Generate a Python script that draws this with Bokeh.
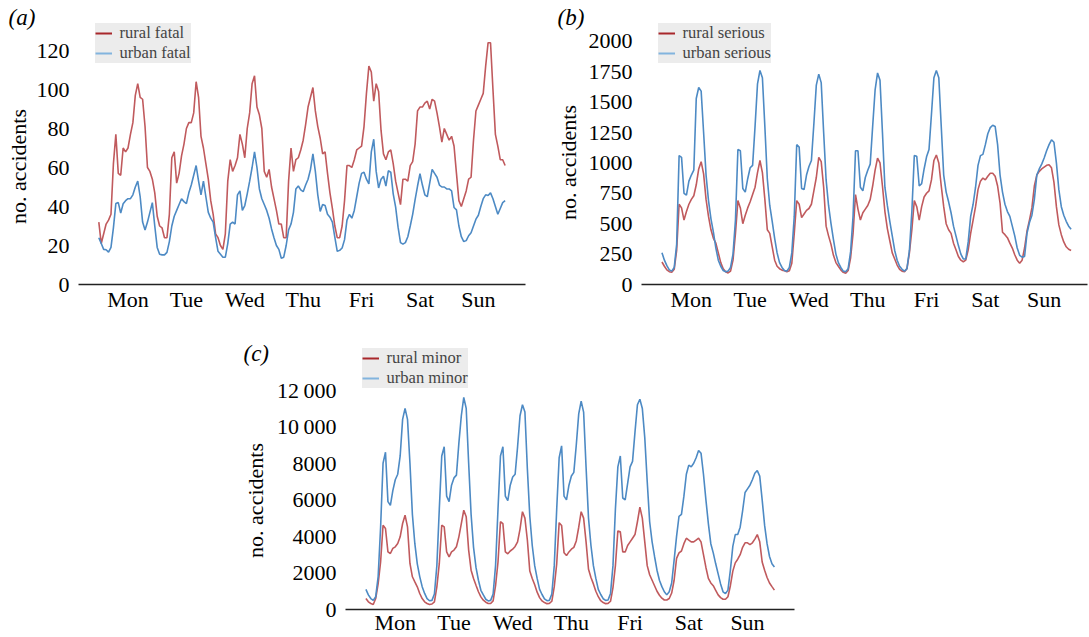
from bokeh.plotting import figure
from bokeh.layouts import column, row
from bokeh.models import Spacer, Legend, LegendItem, Title, FixedTicker, Range1d
from bokeh.embed import file_html
from bokeh.resources import INLINE

# ---------------- data (hour of week 0..167, Monday 00h first) ----------------
days = ["Mon", "Tue", "Wed", "Thu", "Fri", "Sat", "Sun"]
hours = list(range(168))

rural_fatal = [
    32, 21, 26, 31, 33, 36, 62, 77, 57, 56, 70, 68, 70, 77, 83, 97, 103, 96, 95, 81, 60, 58, 54, 47,
    35, 30, 29, 24, 24, 36, 65, 68, 52, 57, 66, 72, 80, 83, 83, 88, 104, 96, 76, 70, 62, 54, 43, 36,
    26, 24, 20, 18, 26, 53, 64, 58, 61, 65, 77, 72, 65, 80, 88, 103, 107, 91, 87, 80, 58, 55, 59, 50,
    44, 38, 31, 31, 24, 24, 53, 70, 58, 64, 65, 69, 74, 82, 91, 96, 101, 89, 81, 75, 67, 68, 57, 47,
    39, 30, 24, 24, 30, 43, 61, 61, 60, 64, 69, 70, 71, 81, 98, 112, 109, 94, 103, 99, 79, 67, 64, 68,
    69, 62, 53, 47, 41, 54, 54, 53, 61, 63, 72, 89, 91, 91, 93, 94, 90, 95, 94, 88, 81, 73, 80, 77,
    74, 76, 71, 57, 43, 40, 44, 48, 54, 55, 74, 89, 92, 95, 98, 112, 124, 124, 100, 77, 71, 64, 64, 61,
]
urban_fatal = [
    24, 21, 18, 17.8, 16.6, 19, 29, 41.5, 42, 36.6, 41.4, 43, 44, 44, 46, 50, 53, 45, 32, 28, 32, 37, 42, 30,
    19, 15.5, 15.2, 15.2, 16.5, 22, 30, 35, 38, 41, 44, 42.5, 41.5, 47, 51, 56, 61, 53, 46, 53, 45, 37, 34, 32,
    24, 17, 15.5, 14, 14, 21, 31, 32, 31, 46, 48, 38, 40.5, 46.5, 53, 60, 68, 60, 49, 44, 41, 38, 34, 28.5,
    24, 20, 18, 13.5, 14, 20, 28, 31, 37, 49, 50.5, 48.5, 47.6, 51, 54, 59, 67, 58, 46, 37.5, 41, 40.5, 36, 34.5,
    32, 24.3, 17, 17.5, 18.7, 23, 33, 36, 34, 38, 45, 52, 57, 57.6, 54, 51.6, 68, 74.5, 58, 49.5, 54, 55.5, 50.5, 58.3,
    57.6, 46.5, 39.7, 29.4, 21.5, 20.7, 21.5, 24.5, 30, 36, 43.5, 50.5, 56.8, 51, 46, 45, 52, 59, 57, 55, 51, 50, 50, 49,
    49, 48, 39.5, 38.3, 30, 24.5, 22, 22.5, 25, 26.5, 30, 33.5, 35.5, 40, 44, 46, 45.6, 47, 44, 40, 36, 39, 42, 43,
]
rural_serious = [
    185, 150, 120, 105, 100, 125, 280, 660, 630, 530, 600, 660, 700, 730, 820, 950, 1010, 910, 700, 560, 450, 380, 340, 260,
    180, 130, 105, 95, 110, 200, 420, 690, 630, 500, 570, 630, 680, 740, 800, 920, 1020, 920, 700, 450, 420, 310, 200, 150,
    130, 118, 113, 105, 113, 175, 420, 690, 660, 550, 580, 610, 625, 660, 770, 880, 1045, 1010, 800, 480, 400, 330, 240, 180,
    150, 120, 100, 92, 115, 220, 420, 740, 620, 530, 590, 620, 650, 700, 810, 940, 1040, 1000, 810, 600, 460, 360, 260, 210,
    160, 125, 110, 105, 130, 260, 450, 690, 640, 530, 640, 720, 750, 770, 860, 1020, 1065, 1000, 810, 640, 500, 450, 420, 340,
    285, 230, 200, 187, 200, 285, 420, 530, 640, 780, 850, 875, 860, 890, 915, 915, 890, 810, 670, 430, 410, 385, 340, 300,
    245, 200, 175, 200, 300, 440, 530, 630, 810, 900, 930, 950, 965, 980, 985, 960, 840, 640, 490, 410, 350, 310, 290, 280,
]
urban_serious = [
    262, 200, 155, 120, 110, 140, 330, 1060, 1045, 750, 735, 850, 900, 940, 1530, 1620, 1590, 1250, 900, 690, 540, 430, 300, 200,
    150, 115, 105, 110, 140, 250, 530, 1110, 1100, 790, 760, 870, 960, 980, 1300, 1650, 1760, 1700, 1300, 870, 650, 520, 380, 260,
    180, 140, 115, 110, 140, 260, 560, 1150, 1130, 790, 780, 900, 970, 1020, 1320, 1640, 1730, 1660, 1250, 860, 650, 500, 370, 250,
    180, 140, 110, 105, 130, 270, 560, 1100, 1100, 800, 770, 880, 940, 990, 1300, 1600, 1740, 1680, 1250, 800, 650, 520, 400, 280,
    200, 150, 125, 110, 130, 280, 600, 1060, 1055, 810, 830, 950, 1050, 1110, 1400, 1700, 1760, 1700, 1300, 900, 760, 680, 590, 480,
    400, 320, 250, 210, 210, 350, 560, 660, 800, 980, 1060, 1070, 1150, 1240, 1290, 1310, 1300, 1150, 900, 760, 660, 600, 560, 480,
    400, 300, 240, 225, 230, 420, 510, 570, 700, 900, 950, 990, 1040, 1100, 1150, 1190, 1170, 1000, 780, 640, 570, 520, 480, 455,
]
rural_minor = [
    600, 420, 330, 275, 600, 1420, 2600, 4610, 4430, 3155, 3064, 3340, 3430, 3610, 3975, 4705, 5160, 4520, 2520, 1790, 1510, 1240, 875, 600,
    420, 330, 275, 300, 420, 1240, 2520, 4610, 4520, 3155, 2880, 3155, 3250, 3430, 3975, 4700, 5430, 5070, 3250, 2150, 1700, 1330, 970, 690,
    510, 400, 330, 330, 470, 1300, 2600, 4800, 4700, 3150, 3050, 3200, 3300, 3450, 3700, 4400, 5350, 5000, 3800, 2100, 1700, 1350, 950, 650,
    470, 380, 320, 330, 450, 1250, 2500, 4750, 4600, 3100, 2950, 3150, 3300, 3400, 3750, 4500, 5350, 5000, 3700, 2200, 1750, 1400, 1000, 700,
    480, 380, 320, 330, 450, 1200, 2400, 4300, 4250, 3150, 3150, 3500, 3700, 3900, 4100, 4800, 5600, 5000, 3700, 2400, 1900, 1600, 1300, 1000,
    780, 620, 520, 520, 600, 900, 1600, 2800, 3100, 3200, 3600, 3900, 3800, 3700, 3700, 3800, 3900, 3700, 3000, 2300, 1700, 1450, 1300, 1050,
    800, 650, 560, 560, 700, 1300, 2100, 2550, 2750, 3000, 3400, 3650, 3650, 3550, 3650, 3850, 4100, 3700, 2600, 2150, 1750, 1450, 1250, 1060,
]
urban_minor = [
    1100, 800, 600, 500, 700, 1800, 4500, 8000, 8600, 5900, 5700, 6500, 7100, 7400, 8400, 10400, 11000, 10400, 8000, 5200, 3600, 2500, 1800, 1250,
    880, 600, 480, 500, 850, 2400, 5500, 8400, 8900, 6200, 5900, 6800, 7200, 7350, 9100, 10600, 11600, 11000, 8000, 5200, 3400, 2300, 1600, 1050,
    800, 560, 470, 500, 850, 2400, 5500, 8400, 8900, 6200, 5950, 6800, 7250, 7400, 8900, 10600, 11200, 10800, 7700, 5100, 3500, 2400, 1700, 1100,
    820, 580, 480, 500, 850, 2400, 5500, 8300, 8950, 6200, 6000, 6800, 7300, 7500, 9000, 10700, 11400, 10800, 7800, 5000, 3500, 2400, 1700, 1100,
    820, 590, 500, 520, 880, 2400, 5500, 7800, 8400, 6100, 6000, 6900, 7800, 8100, 9700, 11200, 11500, 11000, 9400, 7000, 4800, 3700, 2900, 2150,
    1600, 1250, 970, 800, 970, 1450, 2700, 4000, 5100, 5200, 6200, 7400, 7900, 7800, 8000, 8300, 8700, 8550, 7400, 6000, 4700, 3600, 3100, 2500,
    1950, 1400, 970, 870, 1060, 2150, 3450, 4100, 4100, 4500, 5400, 6400, 6600, 6800, 7100, 7450, 7600, 7300, 6000, 4600, 3600, 2900, 2500, 2330,
]

fatal_ticks = [0, 20, 40, 60, 80, 100, 120]
serious_ticks = [0, 250, 500, 750, 1000, 1250, 1500, 1750, 2000]
minor_ticks = [0, 2000, 4000, 6000, 8000, 10000, 12000]
minor_tick_labels = ["0", "2000", "4000", "6000", "8000", "10\u2009000", "12\u2009000"]

# ---------------- styling ----------------
FONT = "Liberation Serif"
RURAL = "#c05a5d"
URBAN = "#4d8ac4"
RURAL_LEG = "#a8272b"
URBAN_LEG = "#82b4de"
TICK_SIZE = "22px"
X0 = -8.35   # left x limit (hours)


def make_panel(letter, rural, urban, names, yticks, ylabels,
               width, height, left, right, top, bottom, pph, ppu, xstandoff,
               ytitle_offset, ytitle_standoff, let_offset, let_standoff):
    frame_w = width - left - right
    frame_h = height - top - bottom
    p = figure(width=width, height=height, output_backend="svg", toolbar_location=None,
               x_range=Range1d(X0, X0 + frame_w / pph), y_range=Range1d(0, frame_h / ppu),
               min_border_left=left, min_border_right=right,
               min_border_top=top, min_border_bottom=bottom)
    p.outline_line_color = None
    p.grid.visible = False

    p.line(hours, rural, line_color=RURAL, line_width=1.6)
    p.line(hours, urban, line_color=URBAN, line_width=1.6)

    tick_pos = [24 * i + 12 for i in range(len(days))]
    p.xaxis.ticker = FixedTicker(ticks=tick_pos)
    p.xaxis.major_label_overrides = {t: d for t, d in zip(tick_pos, days)}
    p.xaxis.major_tick_out = 0
    p.xaxis.major_tick_in = 0
    p.xaxis.major_tick_line_color = None
    p.xaxis.minor_tick_line_color = None
    p.xaxis.axis_line_color = "#222222"
    p.xaxis.axis_line_width = 1.3
    p.xaxis.major_label_standoff = xstandoff
    p.xaxis.major_label_text_font = FONT
    p.xaxis.major_label_text_font_size = TICK_SIZE
    p.xaxis.major_label_text_color = "black"

    p.yaxis.ticker = FixedTicker(ticks=yticks)
    p.yaxis.major_label_overrides = {t: s for t, s in zip(yticks, ylabels)}
    p.yaxis.major_tick_out = 0
    p.yaxis.major_tick_in = 0
    p.yaxis.axis_line_color = None
    p.yaxis.major_tick_line_color = None
    p.yaxis.minor_tick_line_color = None
    p.yaxis.major_label_standoff = 9
    p.yaxis.major_label_text_font = FONT
    p.yaxis.major_label_text_font_size = TICK_SIZE
    p.yaxis.major_label_text_color = "black"

    # y axis title, in the left side panel (outside the tick labels)
    p.add_layout(Title(text="no. accidents", align="left", vertical_align="bottom",
                       offset=ytitle_offset, standoff=ytitle_standoff,
                       text_font=FONT, text_font_size="22px", text_font_style="normal",
                       text_color="black"), "left")

    # panel letter as the plot title, shifted left of the frame
    p.title.text = letter
    p.title.align = "left"
    p.title.vertical_align = "bottom"
    p.title.offset = let_offset
    try:
        p.title.standoff = let_standoff
    except Exception:
        p.title.standoff = 0
    p.title.text_font = FONT
    p.title.text_font_size = "23px"
    p.title.text_font_style = "italic"
    p.title.text_color = "black"

    # legend proxies (nothing visible is drawn)
    r1 = p.line(hours[:1], [float("nan")], line_color=RURAL_LEG, line_width=2)
    r2 = p.line(hours[:1], [float("nan")], line_color=URBAN_LEG, line_width=2)
    leg = Legend(items=[LegendItem(label=names[0], renderers=[r1]),
                        LegendItem(label=names[1], renderers=[r2])],
                 location=(16.6, 221), margin=0, padding=3, spacing=0,
                 glyph_width=17, glyph_height=18, label_height=18, label_standoff=8,
                 label_text_font=FONT, label_text_font_size="16.5px",
                 background_fill_color="#ececec", background_fill_alpha=1.0,
                 border_line_color=None)
    p.add_layout(leg)
    return p


# (a): frame left 78, top 20, bottom 284
pa = make_panel("(a)", rural_fatal, urban_fatal, ["rural fatal", "urban fatal"],
                fatal_ticks, [str(t) for t in fatal_ticks],
                width=540, height=318, left=78, right=15, top=20, bottom=34,
                pph=2.433, ppu=1.95, xstandoff=2,
                ytitle_offset=60.6, ytitle_standoff=6, let_offset=-70, let_standoff=-18)
# (b): frame left 641, top 20, bottom 284
pb = make_panel("(b)", rural_serious, urban_serious, ["rural serious", "urban serious"],
                serious_ticks, [str(t) for t in serious_ticks],
                width=549, height=318, left=101, right=2, top=20, bottom=34,
                pph=2.45, ppu=0.1216, xstandoff=2,
                ytitle_offset=64.6, ytitle_standoff=10, let_offset=-84, let_standoff=-18)
# (c): frame left 345, top 345, bottom 609
pc = make_panel("\n(c)", rural_minor, urban_minor, ["rural minor", "urban minor"],
                minor_ticks, minor_tick_labels,
                width=570, height=319, left=115, right=6, top=27, bottom=28,
                pph=2.446, ppu=0.01828, xstandoff=0,
                ytitle_offset=51.6, ytitle_standoff=13, let_offset=-102, let_standoff=-40)

layout = column(row(pa, pb), row(Spacer(width=230, height=319), pc))
open("out.html", "w").write(file_html(layout, INLINE))
